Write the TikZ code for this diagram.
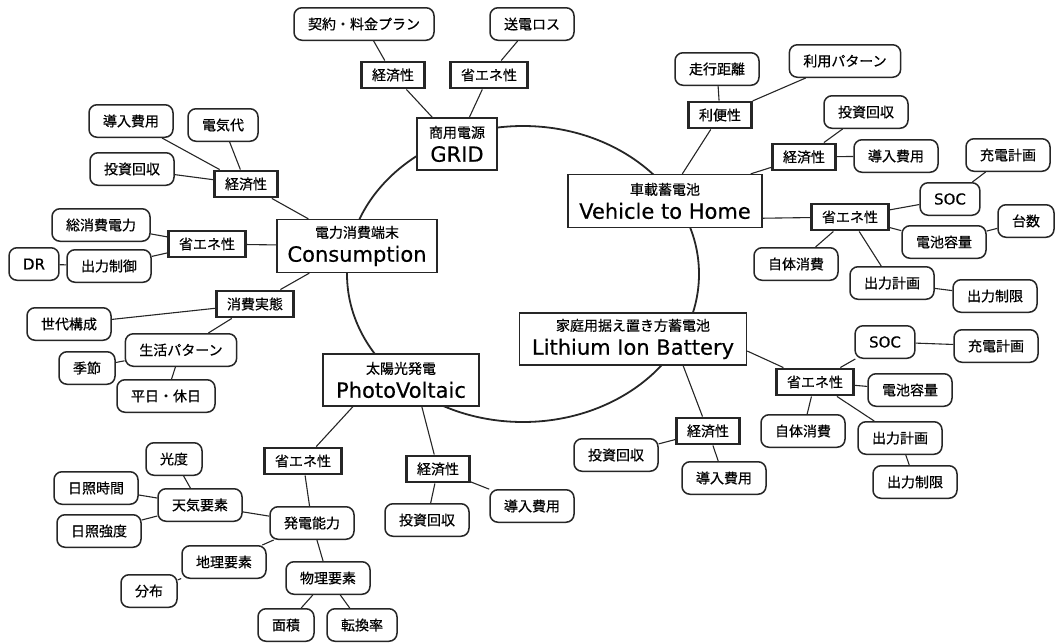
\documentclass[tikz,border=0pt]{standalone}
\usepackage{fontspec}
\setmainfont{Noto Sans CJK JP}
\newfontfamily\cjk[FakeBold=0.5]{Noto Sans CJK JP}
\newfontfamily\latinfont[FakeBold=0.4]{DejaVu Sans}
\newcommand\jp{\cjk\fontsize{14}{16}\selectfont}
\newcommand\bigfnt{\latinfont\fontsize{21}{24}\selectfont}
\newcommand\smlat{\latinfont\fontsize{15}{17}\selectfont}
\usetikzlibrary{shapes.geometric}
\tikzset{
  ring/.style={draw=black!85, ellipse, line width=1.8pt, minimum width=352pt, minimum height=296pt, inner sep=0pt},
  mainbox/.style={draw=black!85, fill=white, line width=1.3pt, align=center, inner sep=0pt, font=\bigfnt},
  catbox/.style={draw=black!85, fill=white, line width=2.4pt, inner xsep=10.5pt, inner ysep=0pt, minimum height=26.5pt, font=\jp},
  leaf/.style={draw=black!85, fill=white, rounded corners=8pt, line width=1.5pt, inner xsep=14pt, inner ysep=0pt, minimum height=32.5pt, font=\jp},
  latleaf/.style={leaf, font=\smlat},
  link/.style={draw=black!85, line width=1.1pt},
}
\begin{document}
\begin{tikzpicture}[x=1pt,y=-1pt]
\useasboundingbox (0,0) rectangle (1055,643);
\node[ring] (ring) at (523,274) {};

% main boxes
\node[mainbox, minimum width=80pt, minimum height=52pt] (grid) at (457,144) {{\jp 商用電源}\\GRID};
\node[mainbox, minimum width=160pt, minimum height=53pt] (cons) at (357,246) {{\jp 電力消費端末}\\Consumption};
\node[mainbox, minimum width=156pt, minimum height=52pt] (pv) at (401,380) {{\jp 太陽光発電}\\PhotoVoltaic};
\node[mainbox, minimum width=194pt, minimum height=53pt] (v2h) at (665,201) {{\jp 車載蓄電池}\\Vehicle to Home};
\node[mainbox, minimum width=227pt, minimum height=52pt] (lib) at (633,339) {{\jp 家庭用据え置き方蓄電池}\\Lithium Ion Battery};

% GRID
\node[catbox] (gEco) at (393,75) {経済性};
\node[catbox] (gSave) at (489,75) {省エネ性};
\node[leaf] (gPlan) at (364,24) {契約・料金プラン};
\node[leaf] (gLoss) at (532,24) {送電ロス};

% Consumption
\node[catbox] (cEco) at (246,184) {経済性};
\node[leaf] (cCost) at (131,121) {導入費用};
\node[leaf] (cBill) at (223,125) {電気代};
\node[leaf] (cROI) at (132,169) {投資回収};
\node[catbox] (cSave) at (207,244) {省エネ性};
\node[leaf] (cTotal) at (101,225) {総消費電力};
\node[leaf] (cCtrl) at (109,266) {出力制御};
\node[latleaf] (cDR) at (34,264) {DR};
\node[catbox] (cReal) at (255,304) {消費実態};
\node[leaf] (cHouse) at (69,324) {世代構成};
\node[leaf] (cLife) at (181,350) {生活パターン};
\node[leaf] (cSeason) at (87,368) {季節};
\node[leaf] (cDay) at (166,396) {平日・休日};

% PhotoVoltaic
\node[catbox] (pSave) at (303,461) {省エネ性};
\node[leaf] (pGen) at (312,523) {発電能力};
\node[leaf] (pWeather) at (200,505) {天気要素};
\node[leaf] (pLux) at (174,459) {光度};
\node[leaf] (pSunH) at (96,488) {日照時間};
\node[leaf] (pSunI) at (99,531) {日照強度};
\node[leaf] (pGeo) at (224,562) {地理要素};
\node[leaf] (pDist) at (149,591) {分布};
\node[leaf] (pPhys) at (328,578) {物理要素};
\node[leaf] (pArea) at (286,625) {面積};
\node[leaf] (pConv) at (362,625) {転換率};
\node[catbox] (pEco) at (438,469) {経済性};
\node[leaf] (pROI) at (427,520) {投資回収};
\node[leaf] (pCost) at (532,506) {導入費用};

% Vehicle to Home
\node[catbox] (vConv) at (720,115) {利便性};
\node[leaf] (vDist) at (717,69) {走行距離};
\node[leaf] (vUse) at (845,61) {利用パターン};
\node[catbox] (vEco) at (804,157) {経済性};
\node[leaf] (vROI) at (866,112) {投資回収};
\node[leaf] (vCost) at (896,156) {導入費用};
\node[catbox] (vSave) at (850,217) {省エネ性};
\node[latleaf] (vSOC) at (950,199) {SOC};
\node[leaf] (vCharge) at (1008,155) {充電計画};
\node[leaf] (vCap) at (944,242) {電池容量};
\node[leaf] (vNum) at (1026,221) {台数};
\node[leaf] (vSelf) at (796,264) {自体消費};
\node[leaf] (vOut) at (892,283) {出力計画};
\node[leaf] (vLim) at (995,296) {出力制限};

% Lithium Ion Battery
\node[catbox] (lSave) at (815,382) {省エネ性};
\node[latleaf] (lSOC) at (885,342) {SOC};
\node[leaf] (lCharge) at (996,346) {充電計画};
\node[leaf] (lCap) at (910,390) {電池容量};
\node[leaf] (lSelf) at (803,431) {自体消費};
\node[leaf] (lOut) at (900,438) {出力計画};
\node[leaf] (lLim) at (915,482) {出力制限};
\node[catbox] (lEco) at (708,431) {経済性};
\node[leaf] (lROI) at (616,455) {投資回収};
\node[leaf] (lCost) at (724,478) {導入費用};

% connectors
\draw[link] (gPlan) -- (gEco);
\draw[link] (gEco) -- (grid);
\draw[link] (gSave) -- (grid);
\draw[link] (gLoss) -- (gSave);

\draw[link] (cons) -- (cEco);
\draw[link] (cEco) -- (cCost);
\draw[link] (cEco) -- (cBill);
\draw[link] (cEco) -- (cROI);
\draw[link] (cons) -- (cSave);
\draw[link] (cSave) -- (cTotal);
\draw[link] (cSave) -- (cCtrl);
\draw[link] (cDR) -- (cCtrl);
\draw[link] (cons) -- (cReal);
\draw[link] (cReal) -- (cHouse);
\draw[link] (cReal) -- (cLife);
\draw[link] (cLife) -- (cSeason);
\draw[link] (cLife) -- (cDay);

\draw[link] (pv.-151) -- (pSave);
\draw[link] (pSave) -- (pGen);
\draw[link] (pGen) -- (pWeather);
\draw[link] (pWeather) -- (pLux);
\draw[link] (pWeather) -- (pSunH);
\draw[link] (pWeather) -- (pSunI);
\draw[link] (pGen) -- (pGeo);
\draw[link] (pGeo) -- (pDist);
\draw[link] (pGen) -- (pPhys);
\draw[link] (pPhys) -- (pArea);
\draw[link] (pPhys) -- (pConv);
\draw[link] (pv.-52) -- (pEco);
\draw[link] (pEco) -- (pROI);
\draw[link] (pEco) -- (pCost);

\draw[link] (v2h) -- (vConv);
\draw[link] (vConv) -- (vDist);
\draw[link] (vConv) -- (vUse);
\draw[link] (v2h) -- (vEco);
\draw[link] (vEco) -- (vROI);
\draw[link] (vEco) -- (vCost);
\draw[link] (v2h.-10) -- (vSave);
\draw[link] (vSave) -- (vSOC);
\draw[link] (vSOC) -- (vCharge);
\draw[link] (vSave) -- (vCap);
\draw[link] (vCap) -- (vNum);
\draw[link] (vSave) -- (vSelf);
\draw[link] (vSave) -- (vOut);
\draw[link] (vOut) -- (vLim);

\draw[link] (lib.-6) -- (lSave);
\draw[link] (lSave) -- (lSOC);
\draw[link] (lSOC) -- (lCharge);
\draw[link] (lSave) -- (lCap);
\draw[link] (lSave) -- (lSelf);
\draw[link] (lSave) -- (lOut);
\draw[link] (lOut) -- (lLim);
\draw[link] (lib.-28) -- (lEco);
\draw[link] (lEco) -- (lROI);
\draw[link] (lEco) -- (lCost);
\end{tikzpicture}
\end{document}
